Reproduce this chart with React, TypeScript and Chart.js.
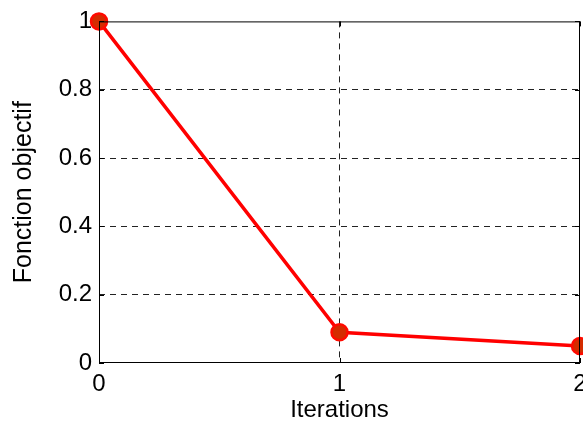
import React, { useEffect, useRef } from "react";
import { Chart, registerables } from "chart.js";

Chart.register(...registerables);

const iterations = ["0", "1", "2"];
const objective = [1, 0.09, 0.05];
const yTicks = [0, 0.2, 0.4, 0.6, 0.8, 1];
const xTitle = "Iterations";
const yTitle = "Fonction objectif";

const FONT = "'Liberation Sans', Arial, Helvetica, sans-serif";

const framePlugin = {
  id: "frame",
  afterDatasetsDraw(chart: any) {
    const { ctx, chartArea: a, scales } = chart;
    ctx.save();
    ctx.strokeStyle = "#000";
    ctx.lineWidth = 1;
    ctx.setLineDash([]);
    ctx.strokeRect(a.left + 0.5, a.top + 0.5, a.right - a.left - 1, a.bottom - a.top - 1);
    const tl = 5;
    ctx.beginPath();
    for (const v of yTicks) {
      const y = Math.round(scales.y.getPixelForValue(v)) + 0.5;
      ctx.moveTo(a.left, y);
      ctx.lineTo(a.left + tl, y);
      ctx.moveTo(a.right, y);
      ctx.lineTo(a.right - tl, y);
    }
    for (let i = 0; i < iterations.length; i++) {
      const x = Math.round(scales.x.getPixelForValue(i)) + 0.5;
      ctx.moveTo(x, a.bottom);
      ctx.lineTo(x, a.bottom - tl);
      ctx.moveTo(x, a.top);
      ctx.lineTo(x, a.top + tl);
    }
    ctx.stroke();
    ctx.restore();
  },
};

export default function App() {
  const ref = useRef<HTMLCanvasElement>(null);
  useEffect(() => {
    if (!ref.current) return;
    const chart = new Chart(ref.current, {
      type: "line",
      data: {
        labels: iterations,
        datasets: [
          {
            data: objective,
            borderColor: "#ff0000",
            borderWidth: 3.5,
            pointRadius: 8,
            pointBorderWidth: 2.5,
            pointBackgroundColor: "#d42c00",
            pointBorderColor: "#ff0a00",
            tension: 0,
            clip: false as any,
          },
        ],
      },
      options: {
        animation: false,
        responsive: false,
        maintainAspectRatio: false,
        layout: { padding: { left: 0, top: 19, right: 20, bottom: 0 } },
        plugins: { legend: { display: false }, tooltip: { enabled: false } },
        scales: {
          x: {
            type: "category",
            offset: false,
            grid: {
              color: (c: any) => (c.index === 1 ? "#222" : "rgba(0,0,0,0)"),
              lineWidth: 1,
              drawTicks: false,
            },
            border: { display: false, dash: [6, 5] },
            ticks: {
              color: "#000",
              font: { family: FONT, size: 24 },
              padding: 7,
              maxRotation: 0,
              autoSkip: false,
            },
            title: {
              display: true,
              text: xTitle,
              color: "#000",
              font: { family: FONT, size: 24 },
              padding: { top: 0, bottom: 0 },
            },
            afterFit: (s: any) => {
              s.height = 62;
            },
          },
          y: {
            min: 0,
            max: 1,
            afterBuildTicks: (s: any) => {
              s.ticks = yTicks.map((v) => ({ value: v }));
            },
            grid: {
              color: (c: any) =>
                c.tick && c.tick.value > 0 && c.tick.value < 1 ? "#222" : "rgba(0,0,0,0)",
              lineWidth: 1,
              drawTicks: false,
            },
            border: { display: false, dash: [6, 5] },
            ticks: {
              color: "#000",
              font: { family: FONT, size: 24 },
              padding: 7,
              callback: (v: any) => String(v),
            },
            title: {
              display: true,
              text: yTitle,
              color: "#000",
              font: { family: FONT, size: 25 },
              padding: { top: 9, bottom: 0 },
            },
            afterFit: (s: any) => {
              s.width = 99;
            },
          },
        },
      },
      plugins: [framePlugin],
    });
    return () => chart.destroy();
  }, []);
  return (
    <div
      style={{
        position: "fixed",
        left: 0,
        top: 0,
        width: 583,
        height: 425,
        overflow: "hidden",
        background: "#fff",
      }}
    >
      <canvas ref={ref} width={600} height={425} style={{ width: 600, height: 425 }} />
    </div>
  );
}
